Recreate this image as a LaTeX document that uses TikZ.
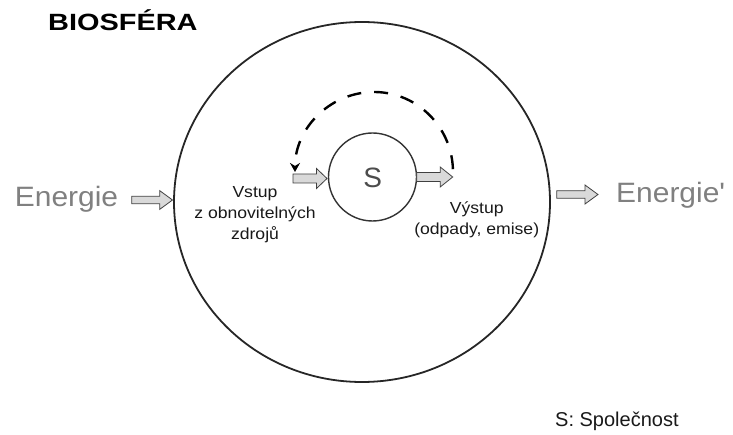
\documentclass[tikz,border=0pt]{standalone}
\usepackage{fontspec}
\setmainfont{Liberation Sans}
\newfontfamily\bodyfont[FakeStretch=1.1]{Liberation Sans}
\newfontfamily\enfont[FakeStretch=1.07]{Liberation Sans}
\newfontfamily\titlefont[FakeStretch=1.23]{Liberation Sans}
\usetikzlibrary{calc,arrows.meta}
\newcommand{\fatarrow}[5]{\draw[fatarr] ($(#1)+(0,#3)$) -- ($(#2)+(-#5,#3)$) -- ($(#2)+(-#5,#4)$) -- (#2) -- ($(#2)+(-#5,-#4)$) -- ($(#2)+(-#5,-#3)$) -- ($(#1)+(0,-#3)$) -- cycle;}
\tikzset{
  fatarr/.style={draw=black!75, line width=0.8pt, fill=gray!30, line join=miter},
  bodytext/.style={font=\bodyfont\fontsize{16}{21}\selectfont, align=center, inner sep=0pt, text=black!90},
  entext/.style={font=\enfont\fontsize{28}{30}\selectfont, inner sep=0pt, text=black!50},
  ring/.style={draw=black!85, line width=1.8pt},
  loop/.style={draw=black, line width=2.4pt, dash pattern=on 14pt off 13pt, -{Stealth[length=9pt,width=10pt]}}
}
\begin{document}
\begin{tikzpicture}[x=1pt,y=1pt]
\useasboundingbox (0,0) rectangle (733,434);
% big circle (biosphere)
\draw[ring] (362,232) ellipse [x radius=188, y radius=180];
\node[inner sep=0pt, minimum size=370pt] (bio) at (362,232) {};
% small circle (society)
\node[circle, draw=black!80, line width=1.4pt, minimum size=88pt, inner sep=0pt] (soc) at (372.5,257) {};
\node[font=\fontsize{28}{30}\selectfont, text=black!70, inner sep=0pt] (s) at (372.7,256) {S};
% title
\node[font=\titlefont\bfseries\fontsize{23.5}{26}\selectfont, anchor=west, inner sep=0pt] (title) at (48,413.5) {BIOSFÉRA};
% energy texts
\node[entext] (ein) at (66.5,235) {Energie};
\node[entext, anchor=west] (eout) at (616,239) {Energie'};
% inner texts
\node[bodytext] (vstup) at (255,219.7) {Vstup\\z obnovitelných\\zdrojů};
\node[bodytext] (vystup) at (476.7,214.5) {Výstup\\(odpady, emise)};
\node[font=\fontsize{20}{22}\selectfont, anchor=base west, inner sep=0pt, text=black!90] (legend) at (555,8) {S: Společnost};
% arrow endpoints
\coordinate (a1s) at (131.7,234);
\coordinate (a1e) at (172.5,234);
\coordinate (a2s) at (556.7,239.5);
\coordinate (a2e) at (598,239.5);
\coordinate (a3s) at (293,255.5);
\coordinate (a3e) at (327,255.5);
\coordinate (a4s) at (416.7,257);
\coordinate (a4e) at (452.7,257);
\fatarrow{a1s}{a1e}{3.7}{9.3}{12.7}
\fatarrow{a2s}{a2e}{3.8}{9.5}{13}
\fatarrow{a3s}{a3e}{4.5}{10}{10.5}
\fatarrow{a4s}{a4e}{4.5}{10}{12.5}
% dashed loop
\coordinate (lc) at (374,262);
\draw[loop] ($(lc)+(2:79 and 80)$) arc[start angle=2, end angle=180, x radius=79, y radius=80];
\end{tikzpicture}
\end{document}
